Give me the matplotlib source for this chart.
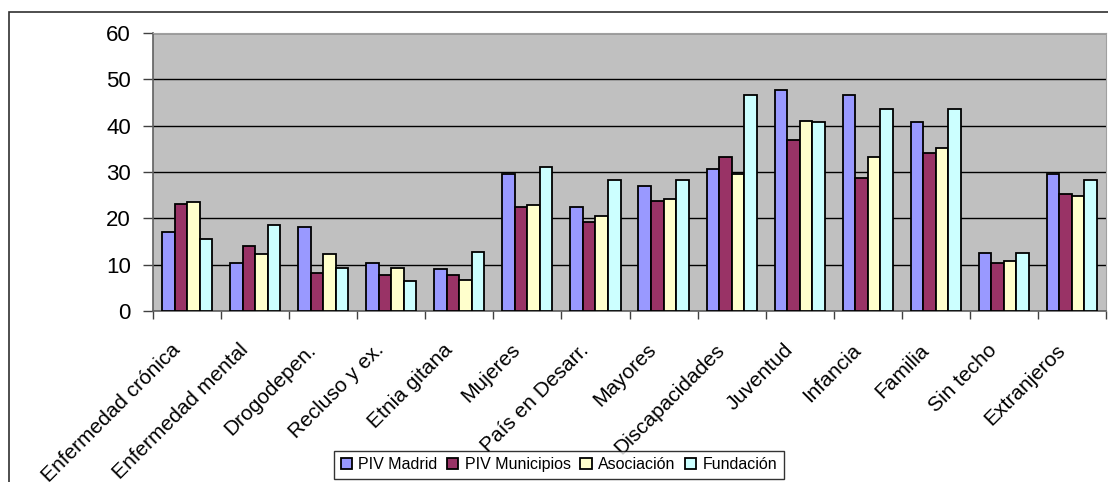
import matplotlib.pyplot as plt
import matplotlib.transforms as mtransforms
import numpy as np
from matplotlib.patches import Rectangle

categorias = ['Enfermedad crónica', 'Enfermedad mental', 'Drogodepen.', 'Recluso y ex.',
              'Etnia gitana', 'Mujeres', 'País en Desarr.', 'Mayores', 'Discapacidades',
              'Juventud', 'Infancia', 'Familia', 'Sin techo', 'Extranjeros']
piv_madrid = [17.1, 10.4, 18.2, 10.4, 9.0, 29.5, 22.5, 27.0, 30.7, 47.7, 46.6, 40.7, 12.6, 29.5]
piv_municipios = [23.1, 14.1, 8.2, 7.8, 7.8, 22.5, 19.3, 23.7, 33.3, 37.0, 28.8, 34.1, 10.4, 25.2]
asociacion = [23.5, 12.2, 12.2, 9.35, 6.7, 22.9, 20.4, 24.1, 29.5, 41.1, 33.3, 35.2, 10.8, 24.8]
fundacion = [15.6, 18.6, 9.35, 6.4, 12.7, 31.0, 28.2, 28.2, 46.6, 40.7, 43.7, 43.7, 12.6, 28.2]

series = ['PIV Madrid', 'PIV Municipios', 'Asociación', 'Fundación']
colores = ['#9999FF', '#993366', '#FFFFCC', '#CCFFFF']

plt.rcParams['font.family'] = ['Liberation Sans', 'DejaVu Sans']

fig = plt.figure(figsize=(11.08, 4.82), dpi=100)
ax = fig.add_axes([153/1108, 1 - 311/482, (1106-153)/1108, (311-33)/482])
ax.set_facecolor('#C0C0C0')

x = np.arange(len(categorias))
w = 0.184
datos = [piv_madrid, piv_municipios, asociacion, fundacion]
for i, (vals, c, nombre) in enumerate(zip(datos, colores, series)):
    ax.bar(x + (i - 1.5) * w, vals, w, color=c, edgecolor='black', linewidth=1.3,
           label=nombre, zorder=3)

ax.set_xlim(-0.5, len(categorias) - 0.5)
ax.set_ylim(0, 60)
ax.set_yticks(range(0, 61, 10))
ax.yaxis.grid(True, color='black', linewidth=1, zorder=1)
ax.tick_params(axis='y', labelsize=16, length=7, width=1, color='#404040', pad=9)

ax.set_xticks(np.arange(-0.5, len(categorias), 1))
ax.set_xticklabels([])
ax.set_xticks(x, minor=True)
ax.set_xticklabels(categorias, minor=True, rotation=45, ha='right', va='center',
                   rotation_mode='anchor', fontsize=15)
ax.tick_params(axis='x', which='major', length=6, width=1, color='#404040')
ax.tick_params(axis='x', which='minor', length=0, pad=26)
desplaza = mtransforms.ScaledTranslation(-10/100, 0, fig.dpi_scale_trans)
for lab in ax.get_xticklabels(minor=True):
    lab.set_transform(lab.get_transform() + desplaza)

for s in ['top', 'right']:
    ax.spines[s].set_color('#A0A0A0')
for s in ['left', 'bottom']:
    ax.spines[s].set_color('#606060')
    ax.spines[s].set_linewidth(1.2)

fig.patches.append(Rectangle((9/1108, -0.1), 1.2, 1 - 12/482 + 0.1, transform=fig.transFigure,
                             fill=False, edgecolor='#303030', linewidth=1.2))

leg = fig.legend(loc='upper center', bbox_to_anchor=(559/1108, 1 - 451/482), ncol=4,
                 fontsize=11.5, frameon=True, fancybox=False, edgecolor='black',
                 handlelength=0.7, handleheight=0.7, handletextpad=0.4, columnspacing=0.6,
                 borderpad=0.4, borderaxespad=0)
leg.get_frame().set_linewidth(1)

fig.savefig('out.png', dpi=100)
